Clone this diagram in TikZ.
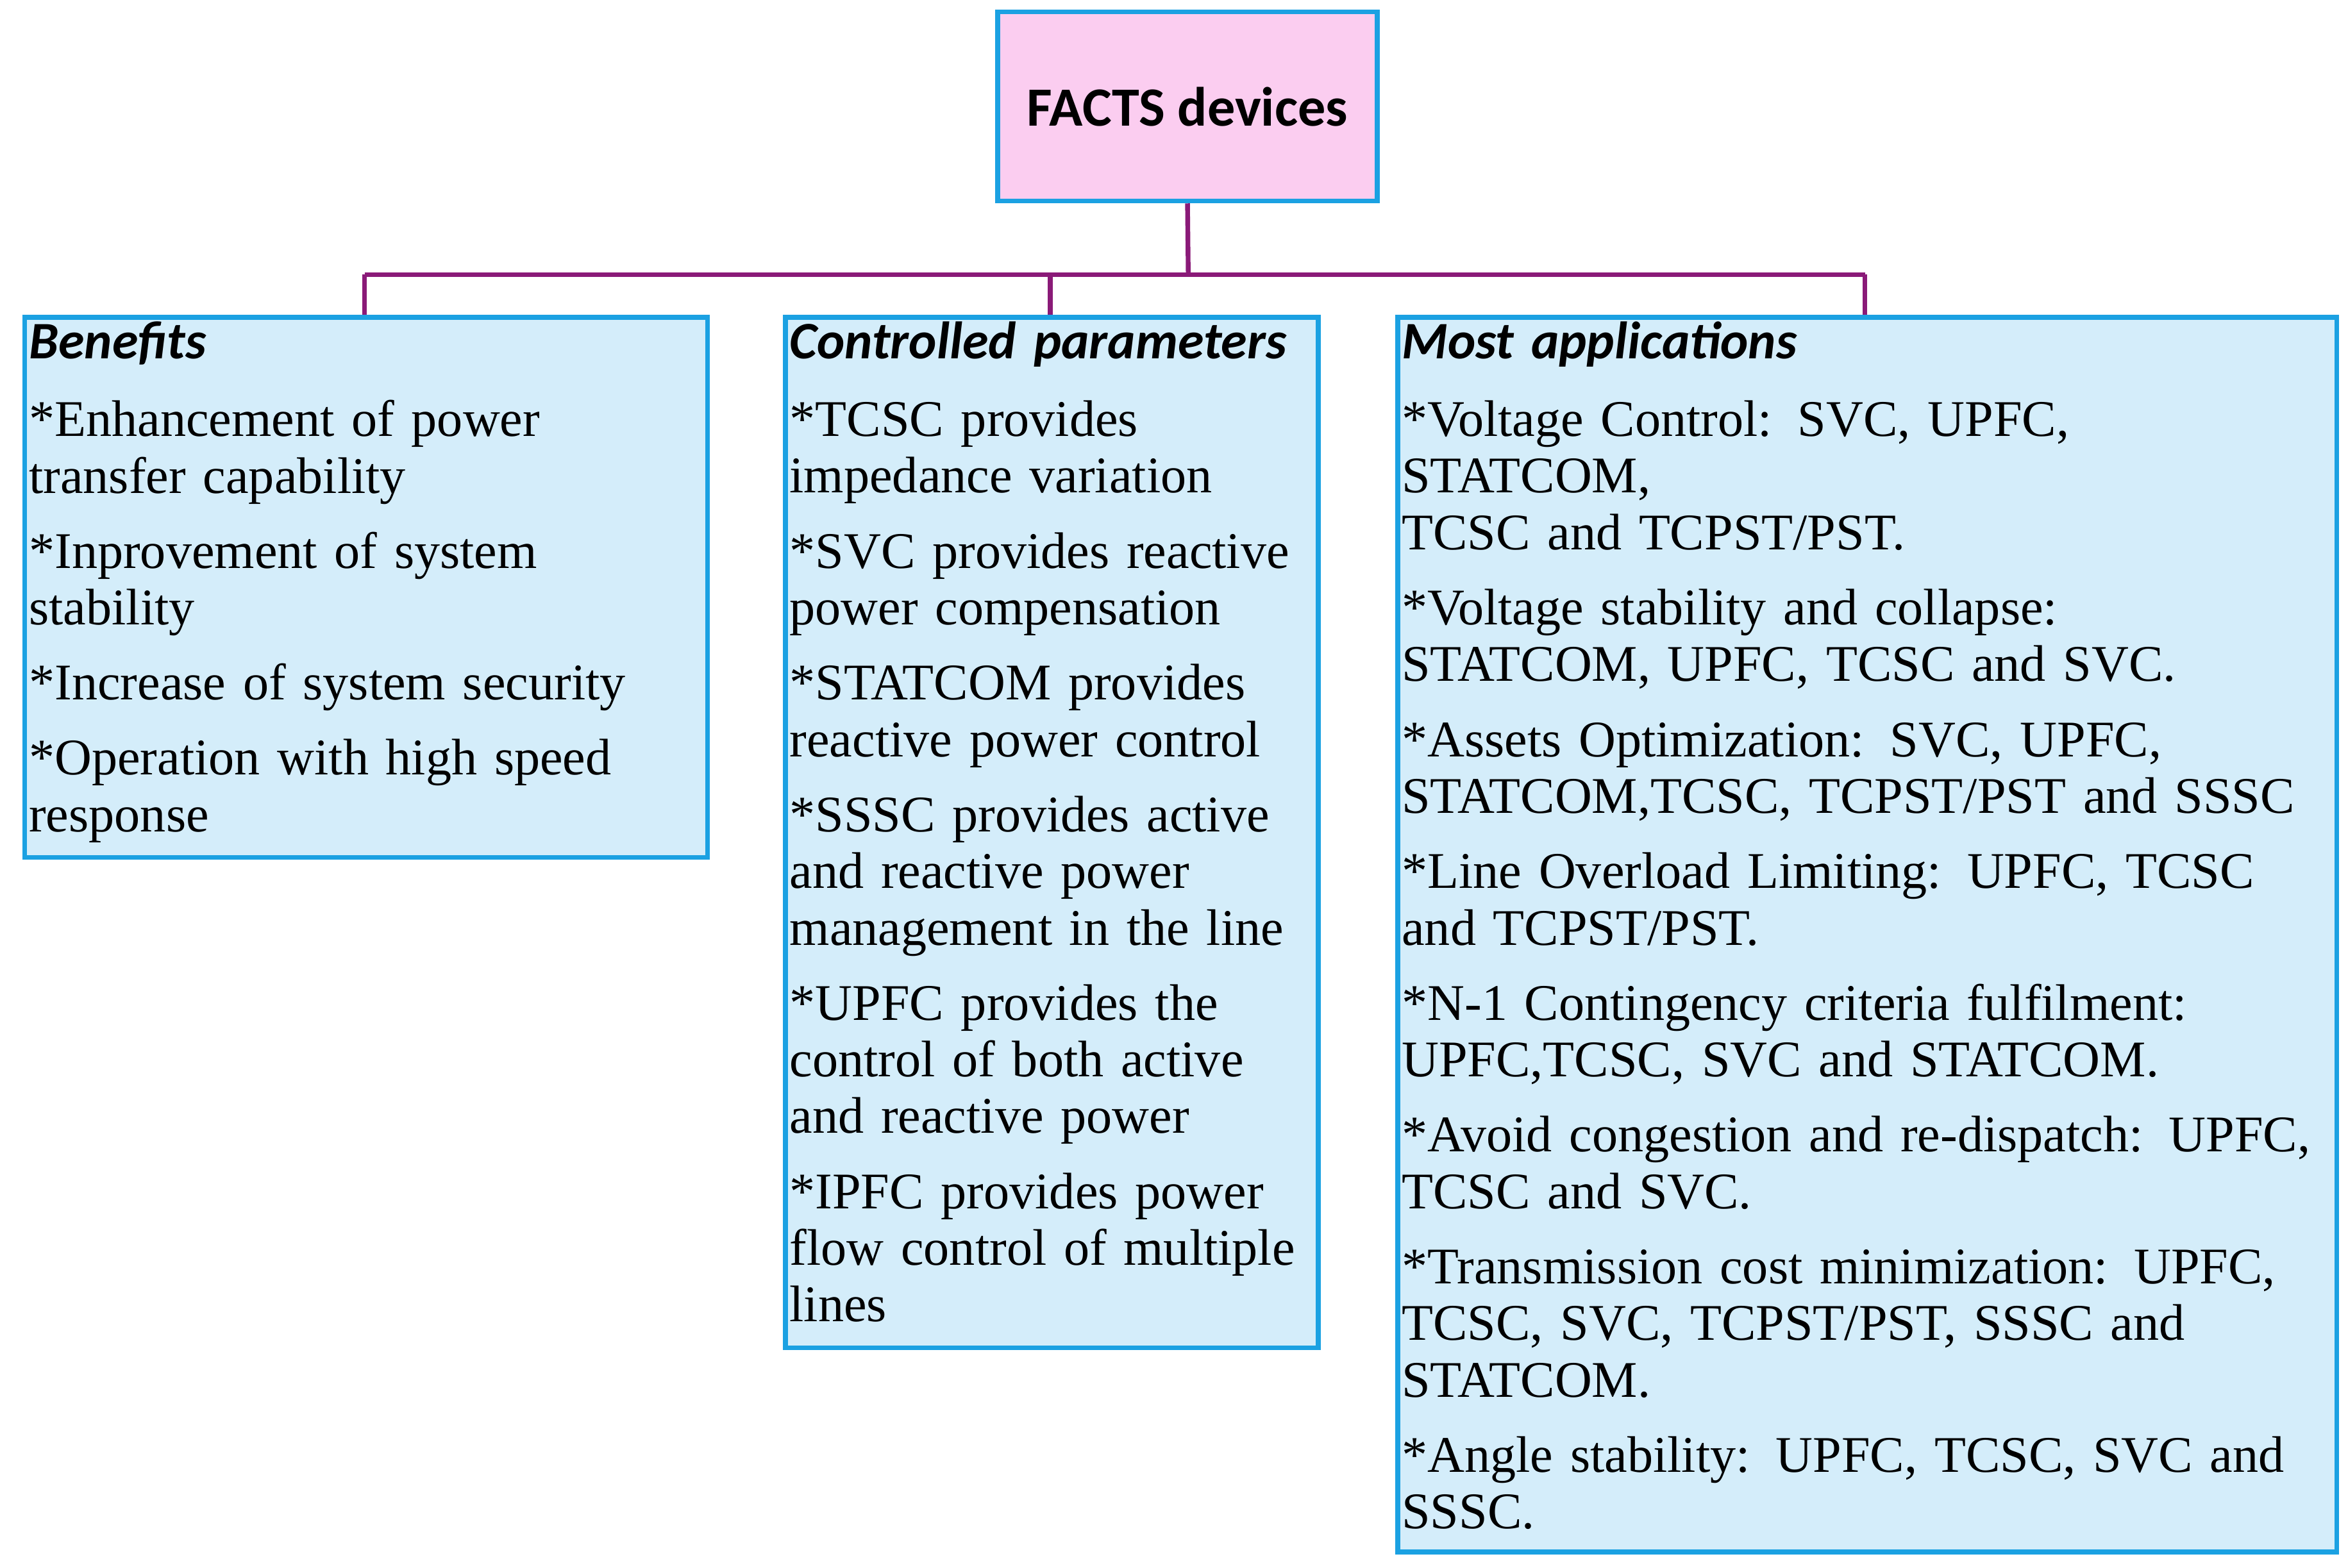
\documentclass[tikz,border=0pt]{standalone}
\usepackage{fontspec}
\setmainfont{Liberation Serif}
\newfontfamily\headf{Carlito}
\definecolor{bfill}{HTML}{D4EDFA}
\definecolor{bline}{HTML}{1BA1E2}
\definecolor{pfill}{HTML}{FBCDF0}
\definecolor{conn}{HTML}{8A1A78}
\tikzset{
 box/.style={draw=bline,line width=1.8pt,fill=bfill,anchor=north west,inner sep=0},
 txt/.style={anchor=north west,inner sep=0,align=left,font=\fontsize{19.5}{21.5}\selectfont},
 cn/.style={draw=conn,line width=1.8pt}
}
\newcommand{\hdf}{\headf\bfseries\itshape\fontsize{20}{22}\selectfont}
\newcommand{\gp}{\\[7pt]}
\begin{document}
\begin{tikzpicture}[x=0.02cm,y=-0.02cm]
\useasboundingbox (0,0) rectangle (1565,1045);
\node[draw=bline,line width=1.8pt,fill=pfill,minimum width=253*0.02cm,minimum height=126*0.02cm,font=\headf\bfseries\fontsize{21}{24}\selectfont] (top) at (791.5,71) {FACTS devices};
\node[box,minimum width=455*0.02cm,minimum height=360*0.02cm] (b1) at (15,210) {};
\node[box,minimum width=355*0.02cm,minimum height=687*0.02cm] (b2) at (522,210) {};
\node[box,minimum width=626*0.02cm,minimum height=823*0.02cm] (b3) at (930,210) {};
\coordinate (j) at (792,183);
\draw[cn] (top.south) -- (j);
\draw[cn] (243,183) -- (1243,183);
\draw[cn] (243,183) -- (243,210);
\draw[cn] (700,183) -- (700,210);
\draw[cn] (1243,183) -- (1243,210);
\node[txt,text width=450*0.02cm] (t1) at (19,214) {{\hdf Benefits}\\[8pt]
*Enhancement of power\\transfer capability\gp
*Inprovement of system\\stability\gp
*Increase of system security\gp
*Operation with high speed\\response};
\node[txt,text width=355*0.02cm] (t2) at (526,214) {{\hdf Controlled parameters}\\[8pt]
*TCSC provides\\impedance variation\gp
*SVC provides reactive\\power compensation\gp
*STATCOM provides\\reactive power control\gp
*SSSC provides active\\and reactive power\\management in the line\gp
*UPFC provides the\\control of both active\\and reactive power\gp
*IPFC provides power\\flow control of multiple\\lines};
\node[txt,text width=630*0.02cm] (t3) at (934,214) {{\hdf Most applications}\\[8pt]
*Voltage Control: SVC, UPFC,\\STATCOM,\\TCSC and TCPST/PST.\gp
*Voltage stability and collapse:\\STATCOM, UPFC, TCSC and SVC.\gp
*Assets Optimization: SVC, UPFC,\\STATCOM,TCSC, TCPST/PST and SSSC\gp
*Line Overload Limiting: UPFC, TCSC\\and TCPST/PST.\gp
*N-1 Contingency criteria fulfilment:\\UPFC,TCSC, SVC and STATCOM.\gp
*Avoid congestion and re-dispatch: UPFC,\\TCSC and SVC.\gp
*Transmission cost minimization: UPFC,\\TCSC, SVC, TCPST/PST, SSSC and\\STATCOM.\gp
*Angle stability: UPFC, TCSC, SVC and\\SSSC.};
\end{tikzpicture}
\end{document}
